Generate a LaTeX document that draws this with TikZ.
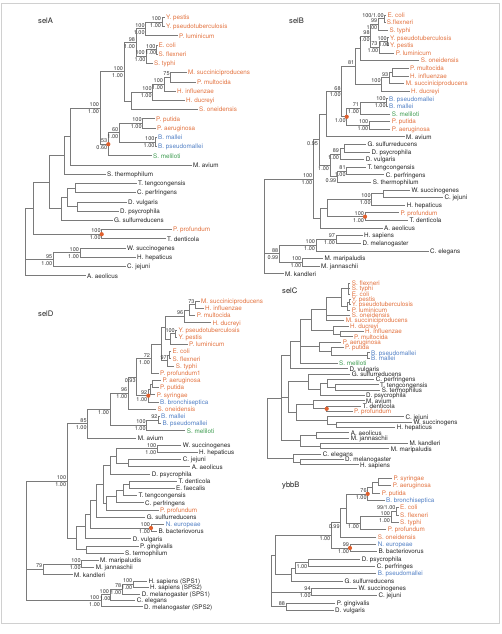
\documentclass[tikz,border=0pt]{standalone}
\usepackage{fontspec}
\setmainfont{TeX Gyre Heros}
\definecolor{og}{HTML}{E2703C}
\definecolor{bl}{HTML}{4F7EC4}
\definecolor{gr}{HTML}{3B9A4E}
\definecolor{bk}{HTML}{222222}
\definecolor{ln}{HTML}{7A7A7A}
\definecolor{dotc}{HTML}{E0602E}
\definecolor{frm}{HTML}{D0D0D0}
\definecolor{svc}{HTML}{333333}
\tikzset{
  lab/.style={anchor=base west,inner sep=0pt,font=\fontsize{6.3}{7}\selectfont},
  sv/.style={inner sep=0pt,text=svc,font=\fontsize{5.5}{6}\selectfont},
  ttl/.style={anchor=base west,inner sep=0pt,text=bk,font=\fontsize{7.6}{9}\selectfont},
  br/.style={draw=ln,line width=0.75pt},
  frame/.style={draw=frm,line width=0.8pt}
}
\newcommand\Lf[5]{\coordinate (#1) at ({#2-1.5},#3);\node[lab,text=#4] (#1t) at (#2,{#3+2.3}) {#5};}
\newcommand\Nd[3]{\coordinate (#1) at (#2,#3);}
\newcommand\Br[2]{\draw[br] (#1) -| (#2);}
\newcommand\Up[3][0]{\node[sv,anchor=south east] (#2u) at ([xshift={(#1-0.9)*1pt},yshift=1.3pt]#2) {#3};}
\newcommand\Dn[3][0]{\node[sv,anchor=north east] (#2d) at ([xshift={(#1-0.9)*1pt},yshift=-1.3pt]#2) {#3};}
\newcommand\Dot[1]{\fill[dotc] (#1) circle[radius=2.1pt];}
\begin{document}
\begin{tikzpicture}[x=1pt,y=-1pt]
\useasboundingbox (0,0) rectangle (501,634);
\draw[frame] (1,3.3) rectangle (499.3,623.3);
% titles
\node[ttl] (tA) at (38,23.6) {selA};
\node[ttl] (tB) at (289,23.3) {selB};
\node[ttl] (tD) at (38,316) {selD};
\node[ttl] (tC) at (282,293.6) {selC};
\node[ttl] (tY) at (282,487.6) {ybbB};
% ================= selA
\Lf{A1}{166}{17.3}{og}{Y. pestis}
\Lf{A2}{166}{26.53}{og}{Y. pseudotuberculosis}
\Lf{A3}{179}{35.76}{og}{P. luminicum}
\Lf{A4}{158.3}{44.99}{og}{E. coli}
\Lf{A5}{158.3}{54.22}{og}{S. flexneri}
\Lf{A6}{154}{63.45}{og}{S. typhi}
\Lf{A7}{188}{72.68}{og}{M. succiniciproducens}
\Lf{A8}{197}{81.91}{og}{P. multocida}
\Lf{A9}{177}{91.14}{og}{H. influenzae}
\Lf{A10}{186}{100.37}{og}{H. ducreyi}
\Lf{A11}{199}{109.6}{og}{S. oneidensis}
\Lf{A12}{156}{118.83}{og}{P. putida}
\Lf{A13}{157}{128.06}{og}{P. aeruginosa}
\Lf{A14}{158}{137.29}{bl}{B. mallei}
\Lf{A15}{158}{146.52}{bl}{B. pseudomallei}
\Lf{A16}{153}{155.75}{gr}{S. meliloti}
\Lf{A17}{193}{164.98}{bk}{M. avium}
\Lf{A18}{107}{174.21}{bk}{S. thermophilum}
\Lf{A19}{138}{183.44}{bk}{T. tengcongensis}
\Lf{A20}{137}{192.67}{bk}{C. perfringens}
\Lf{A21}{128}{201.9}{bk}{D. vulgaris}
\Lf{A22}{120}{211.13}{bk}{D. psycrophila}
\Lf{A23}{114}{220.36}{bk}{G. sulfurreducens}
\Lf{A24}{173}{229.59}{og}{P. profundum}
\Lf{A25}{167}{238.82}{bk}{T. denticola}
\Lf{A26}{127}{248.05}{bk}{W. succinogenes}
\Lf{A27}{137}{257.28}{bk}{H. hepaticus}
\Lf{A28}{127}{266.51}{bk}{C. jejuni}
\Lf{A29}{87}{275.74}{bk}{A. aeolicus}
\Nd{a1}{162}{21.9}\Nd{a2}{145.7}{28.8}\Nd{a3}{156.5}{49.6}\Nd{a4}{146.5}{56.5}
\Nd{a5}{136}{42.7}\Nd{a6}{170.7}{77.3}\Nd{a7}{164}{84.2}\Nd{a8}{152.7}{92.3}
\Nd{a9}{131.7}{101}\Nd{a10}{124}{71.8}\Nd{a11}{142.7}{123.4}\Nd{a12}{155.5}{141.9}
\Nd{a13}{119.3}{132.7}\Nd{a14}{108.3}{144.2}\Nd{a15}{100}{108}\Nd{a16}{70}{136.5}
\Nd{a17}{64.3}{155.3}\Nd{a18}{75}{188.1}\Nd{a19}{77.3}{206.5}\Nd{a20}{67.7}{197.3}
\Nd{a21}{61.7}{208.8}\Nd{a22}{49.3}{182}\Nd{a23}{101.7}{234.2}\Nd{a24}{33.3}{208.1}
\Nd{a25}{80}{252.7}\Nd{a26}{53.3}{259.6}\Nd{aR}{25.7}{240}
\Br{A1}{a1}\Br{A2}{a1}\Br{a1}{a2}\Br{A3}{a2}
\Br{A4}{a3}\Br{A5}{a3}\Br{a3}{a4}\Br{A6}{a4}
\Br{a2}{a5}\Br{a4}{a5}
\Br{A7}{a6}\Br{A8}{a6}\Br{a6}{a7}\Br{A9}{a7}\Br{a7}{a8}\Br{A10}{a8}\Br{a8}{a9}\Br{A11}{a9}
\Br{a5}{a10}\Br{a9}{a10}
\Br{A12}{a11}\Br{A13}{a11}\Br{A14}{a12}\Br{A15}{a12}\Br{a11}{a13}\Br{a12}{a13}\Br{a13}{a14}\Br{A16}{a14}
\Br{a10}{a15}\Br{a14}{a15}\Br{a15}{a16}\Br{A17}{a16}\Br{a16}{a17}\Br{A18}{a17}
\Br{A19}{a18}\Br{A20}{a18}\Br{A21}{a19}\Br{A22}{a19}\Br{a18}{a20}\Br{a19}{a20}\Br{a20}{a21}\Br{A23}{a21}
\Br{a17}{a22}\Br{a21}{a22}
\Br{A24}{a23}\Br{A25}{a23}\Br{a22}{a24}\Br{a23}{a24}
\Br{A26}{a25}\Br{A27}{a25}\Br{a25}{a26}\Br{A28}{a26}
\Br{a24}{aR}\Br{a26}{aR}\Br{A29}{aR}
\Up{a1}{100}\Dn{a1}{1.00}
\Up{a2}{100}\Dn{a2}{1.00}
\Up{a3}{100}\Dn[0.8]{a3}{1.00}
\Up[-0.6]{a4}{100}\Dn{a4}{1.00}
\Up{a5}{98}\Dn{a5}{1.00}
\Up{a6}{75}
\Up{a7}{100}\Dn{a7}{1.00}
\Up{a8}{100}\Dn{a8}{1.00}
\Up{a10}{100}\Dn{a10}{1.00}
\Up{a11}{100}\Dn{a11}{1.00}
\Up{a12}{100}\Dn{a12}{1.00}
\Up{a13}{60}\Dn{a13}{1.00}
\Up{a14}{53}\Dn{a14}{0.60}
\Up{a15}{100}\Dn{a15}{1.00}
\Up{a23}{100}\Dn{a23}{1.00}
\Up{a25}{100}\Dn{a25}{1.00}
\Up{a26}{95}\Dn{a26}{1.00}
\Dot{a14}\Dot{a23}
% ================= selB
\Lf{B1}{387.3}{15.0}{og}{E. coli}
\Lf{B2}{386.7}{22.61}{og}{S.flexneri}
\Lf{B3}{389.3}{30.22}{og}{S. typhi}
\Lf{B4}{390}{37.83}{og}{Y. pseudotuberculosis}
\Lf{B5}{390}{45.44}{og}{Y. pestis}
\Lf{B6}{395.7}{53.05}{og}{P. luminicum}
\Lf{B7}{420.7}{60.66}{og}{S. oneidensis}
\Lf{B8}{410}{68.27}{og}{P. multocida}
\Lf{B9}{410}{75.88}{og}{H. influenzae}
\Lf{B10}{405.7}{83.49}{og}{M. succiniciproducens}
\Lf{B11}{411}{91.1}{og}{H. ducreyi}
\Lf{B12}{389}{98.71}{bl}{B. pseudomallei}
\Lf{B13}{389}{106.32}{bl}{B. mallei}
\Lf{B14}{391.7}{113.93}{gr}{S. meliloti}
\Lf{B15}{391.7}{121.54}{og}{P. putida}
\Lf{B16}{391.7}{129.15}{og}{P. aeruginosa}
\Lf{B17}{406}{136.76}{bk}{M. avium}
\Lf{B18}{367.3}{144.37}{bk}{G. sulfurreducens}
\Lf{B19}{371.3}{151.98}{bk}{D. psycrophila}
\Lf{B20}{365.7}{159.59}{bk}{D. vulgaris}
\Lf{B21}{367.3}{167.2}{bk}{T. tengcongensis}
\Lf{B22}{385.7}{174.81}{bk}{C. perfringens}
\Lf{B23}{372.7}{182.42}{bk}{S. thermophilum}
\Lf{B24}{411.3}{190.03}{bk}{W. succinogenes}
\Lf{B25}{444.3}{197.64}{bk}{C. jejuni}
\Lf{B26}{406.7}{205.25}{bk}{H. hepaticus}
\Lf{B27}{400.3}{212.86}{og}{P. profundum}
\Lf{B28}{409.3}{220.47}{bk}{T. denticola}
\Lf{B29}{384}{228.08}{bk}{A. aeolicus}
\Lf{B30}{364}{235.69}{bk}{H. sapiens}
\Lf{B31}{362.3}{243.3}{bk}{D. melanogaster}
\Lf{B32}{430}{250.91}{bk}{C. elegans}
\Lf{B33}{324.3}{258.52}{bk}{M. maripaludis}
\Lf{B34}{321}{266.13}{bk}{M. jannaschii}
\Lf{B35}{285}{273.74}{bk}{M. kandleri}
\Nd{b1}{384.8}{18.8}\Nd{b2}{378.3}{24.5}\Nd{b3}{387.8}{41.6}\Nd{b4}{379.3}{47.3}
\Nd{b5}{370.7}{35.9}\Nd{b6}{360}{48.3}\Nd{b7}{392.3}{72.1}\Nd{b8}{389.3}{77.8}
\Nd{b9}{381.7}{84.5}\Nd{b10}{355.3}{66.4}\Nd{b11}{386.7}{102.5}\Nd{b12}{360}{108.2}
\Nd{b13}{369.3}{125.3}\Nd{b14}{346.7}{116.8}\Nd{b15}{341.7}{91.6}\Nd{b16}{326.7}{114.2}
\Nd{b17}{344}{148.2}\Nd{b18}{340}{153.9}\Nd{b19}{346.7}{171}\Nd{b20}{337.3}{176.7}
\Nd{b21}{330}{165.3}\Nd{b22}{319}{139.8}\Nd{b23}{383.3}{193.8}\Nd{b24}{371.7}{199.5}
\Nd{b25}{365}{216.7}\Nd{b26}{327.3}{208.1}\Nd{b27}{320}{218.1}\Nd{b28}{313.3}{179}
\Nd{b29}{336}{239.5}\Nd{b30}{316}{245.2}\Nd{b31}{302.3}{262.3}\Nd{b32}{279.3}{253.8}
\Nd{bR}{264}{226}
\Br{B1}{b1}\Br{B2}{b1}\Br{b1}{b2}\Br{B3}{b2}
\Br{B4}{b3}\Br{B5}{b3}\Br{b3}{b4}\Br{B6}{b4}
\Br{b2}{b5}\Br{b4}{b5}\Br{b5}{b6}\Br{B7}{b6}
\Br{B8}{b7}\Br{B9}{b7}\Br{b7}{b8}\Br{B10}{b8}\Br{b8}{b9}\Br{B11}{b9}
\Br{b6}{b10}\Br{b9}{b10}
\Br{B12}{b11}\Br{B13}{b11}\Br{b11}{b12}\Br{B14}{b12}
\Br{B15}{b13}\Br{B16}{b13}\Br{b12}{b14}\Br{b13}{b14}
\Br{b10}{b15}\Br{b14}{b15}\Br{b15}{b16}\Br{B17}{b16}
\Br{B18}{b17}\Br{B19}{b17}\Br{b17}{b18}\Br{B20}{b18}
\Br{B21}{b19}\Br{B22}{b19}\Br{b19}{b20}\Br{B23}{b20}
\Br{b18}{b21}\Br{b20}{b21}\Br{b16}{b22}\Br{b21}{b22}
\Br{B24}{b23}\Br{B25}{b23}\Br{b23}{b24}\Br{B26}{b24}
\Br{B27}{b25}\Br{B28}{b25}\Br{b24}{b26}\Br{b25}{b26}\Br{b26}{b27}\Br{B29}{b27}
\Br{b22}{b28}\Br{b27}{b28}
\Br{B30}{b29}\Br{B31}{b29}\Br{b29}{b30}\Br{B32}{b30}
\Br{B33}{b31}\Br{B34}{b31}\Br{b30}{b32}\Br{b31}{b32}
\Br{b28}{bR}\Br{b32}{bR}\Br{B35}{bR}
\Up{b1}{100/1.00}
\Up{b2}{99}\Dn{b2}{1.00}
\Up{b3}{100}\Dn[2.6]{b3}{1.00}
\Up[-0.8]{b4}{73}\Dn{b4}{1.00}
\Up{b5}{98}\Dn{b5}{1.00}
\Up{b8}{93}
\Up{b9}{100}
\Up{b10}{81}
\Up{b11}{100}\Dn{b11}{1.00}
\Up{b12}{71}\Dn{b12}{1.00}
\Up{b13}{100}\Dn{b13}{1.00}
\Dn{b14}{1.00}
\Up{b15}{68}\Dn{b15}{1.00}
\Up{b18}{89}\Dn{b18}{1.00}
\Up{b19}{81}\Dn{b19}{1.00}
\Dn{b20}{0.99}
\Dn{b21}{1.00}
\Dn{b22}{0.95}
\Up{b24}{100}\Dn{b24}{1.00}
\Up{b25}{100}\Dn{b25}{1.00}
\Up{b28}{100}\Dn{b28}{1.00}
\Up{b29}{97}\Dn{b29}{1.00}
\Up{b30}{100}\Dn{b30}{1.00}
\Up{b31}{100}\Dn{b31}{1.00}
\Up{b32}{88}\Dn{b32}{0.99}
\Dot{b14}\Dot{b25}
% ================= selD
\Lf{D1}{201}{301.2}{og}{M. succiniciproducens}
\Lf{D2}{205}{308.4}{og}{H. influenzae}
\Lf{D3}{196.7}{315.6}{og}{P. multocida}
\Lf{D4}{212.3}{322.8}{og}{H. ducreyi}
\Lf{D5}{178.3}{330.0}{og}{Y. pseudotuberculosis}
\Lf{D6}{178.3}{337.2}{og}{Y. pestis}
\Lf{D7}{189}{344.4}{og}{P. luminicum}
\Lf{D8}{172.3}{351.6}{og}{E. coli}
\Lf{D9}{172.3}{358.8}{og}{S. flexneri}
\Lf{D10}{175.7}{366.0}{og}{S. typhi}
\Lf{D11}{160}{373.2}{og}{P. profundum1}
\Lf{D12}{162.3}{380.4}{og}{P. aeruginosa}
\Lf{D13}{160}{387.6}{og}{P. putida}
\Lf{D14}{156.7}{394.8}{og}{P. syringae}
\Lf{D15}{160}{402.0}{bl}{B. bronchiseptica}
\Lf{D16}{157.3}{409.2}{og}{S. oneidensis}
\Lf{D17}{161}{416.4}{bl}{B. mallei}
\Lf{D18}{162.3}{423.6}{bl}{B. pseudomallei}
\Lf{D19}{186.7}{430.8}{gr}{S. meliloti}
\Lf{D20}{137.7}{438.0}{bk}{M. avium}
\Lf{D21}{182.7}{445.2}{bk}{W. succinogenes}
\Lf{D22}{199}{452.4}{bk}{H. hepaticus}
\Lf{D23}{182.7}{459.6}{bk}{C. jejuni}
\Lf{D24}{191.7}{466.8}{bk}{A. aeolicus}
\Lf{D25}{151.7}{474.0}{bk}{D. psycrophila}
\Lf{D26}{178.3}{481.2}{bk}{T. denticola}
\Lf{D27}{176}{488.4}{bk}{E. faecalis}
\Lf{D28}{138.3}{495.6}{bk}{T. tengcongensis}
\Lf{D29}{145}{502.8}{bk}{C. perfringens}
\Lf{D30}{160}{510.0}{og}{P. profundum}
\Lf{D31}{146.7}{517.2}{bk}{G. sulfurreducens}
\Lf{D32}{165.7}{524.4}{bl}{N. europeae}
\Lf{D33}{158.3}{531.6}{bk}{B. bacteriovorus}
\Lf{D34}{132.7}{538.8}{bk}{D. vulgaris}
\Lf{D35}{140}{546.0}{bk}{P. gingivalis}
\Lf{D36}{125}{553.2}{bk}{S. termophilum}
\Lf{D37}{100}{560.4}{bk}{M. maripaludis}
\Lf{D38}{95.7}{567.6}{bk}{M. jannaschii}
\Lf{D39}{74}{574.8}{bk}{M. kandleri}
\Lf{D40}{148.3}{581.2}{bk}{H. sapiens (SPS1)}
\Lf{D41}{150}{587.6}{bk}{H. sapiens (SPS2)}
\Lf{D42}{141.7}{594.0}{bk}{D. melanogaster (SPS1)}
\Lf{D43}{136.7}{600.4}{bk}{C. elegans}
\Lf{D44}{144}{606.8}{bk}{D. melanogaster (SPS2)}
\Nd{d1}{195.5}{304.8}\Nd{d2}{189.5}{310.2}\Nd{d3}{184.3}{316.5}\Nd{d4}{175.8}{333.6}
\Nd{d5}{170.7}{339}\Nd{d6}{165.7}{327.8}\Nd{d7}{169.8}{355.2}\Nd{d8}{167.8}{360.6}
\Nd{d9}{161.7}{344.2}\Nd{d10}{151}{358.7}\Nd{d11}{152}{384}\Nd{d12}{150}{389.4}
\Nd{d13}{148.3}{395.7}\Nd{d14}{136.7}{377.2}\Nd{d15}{128.3}{393.2}\Nd{d16}{158.5}{420}
\Nd{d17}{146.7}{425.4}\Nd{d18}{110}{409.3}\Nd{d19}{87.7}{423.7}\Nd{d20}{157.3}{448.8}
\Nd{d21}{128.3}{463.2}\Nd{d22}{116.7}{456}\Nd{d23}{110}{465}\Nd{d24}{129.3}{484.8}
\Nd{d25}{123.3}{490.2}\Nd{d26}{116.7}{496.5}\Nd{d27}{106.7}{503.3}\Nd{d28}{103.3}{484.2}
\Nd{d29}{96.7}{500.7}\Nd{d30}{151}{528}\Nd{d31}{90}{514.4}\Nd{d32}{85}{526.6}
\Nd{d33}{86.5}{549.6}\Nd{d34}{76.7}{538.1}\Nd{d35}{67.2}{481}\Nd{d36}{81.7}{564}
\Nd{d37}{43.3}{569.4}\Nd{d38}{133.3}{584.4}\Nd{d39}{122.3}{589.2}\Nd{d40}{110}{594.8}
\Nd{d41}{101}{600.8}\Nd{dR}{26.7}{540}
\Br{D1}{d1}\Br{D2}{d1}\Br{d1}{d2}\Br{D3}{d2}\Br{d2}{d3}\Br{D4}{d3}
\Br{D5}{d4}\Br{D6}{d4}\Br{d4}{d5}\Br{D7}{d5}\Br{d3}{d6}\Br{d5}{d6}
\Br{D8}{d7}\Br{D9}{d7}\Br{d7}{d8}\Br{D10}{d8}\Br{d6}{d9}\Br{d8}{d9}
\Br{d9}{d10}\Br{D11}{d10}
\Br{D12}{d11}\Br{D13}{d11}\Br{d11}{d12}\Br{D14}{d12}\Br{d12}{d13}\Br{D15}{d13}
\Br{d10}{d14}\Br{d13}{d14}\Br{d14}{d15}\Br{D16}{d15}
\Br{D17}{d16}\Br{D18}{d16}\Br{d16}{d17}\Br{D19}{d17}
\Br{d15}{d18}\Br{d17}{d18}\Br{d18}{d19}\Br{D20}{d19}
\Br{D21}{d20}\Br{D22}{d20}\Br{D23}{d21}\Br{D24}{d21}\Br{d20}{d22}\Br{d21}{d22}\Br{d22}{d23}\Br{D25}{d23}
\Br{D26}{d24}\Br{D27}{d24}\Br{d24}{d25}\Br{D28}{d25}\Br{d25}{d26}\Br{D29}{d26}\Br{d26}{d27}\Br{D30}{d27}
\Br{d23}{d28}\Br{d27}{d28}\Br{d28}{d29}\Br{D31}{d29}
\Br{D32}{d30}\Br{D33}{d30}\Br{d29}{d31}\Br{d30}{d31}\Br{d31}{d32}\Br{D34}{d32}
\Br{D35}{d33}\Br{D36}{d33}\Br{d32}{d34}\Br{d33}{d34}
\Br{d19}{d35}\Br{d34}{d35}
\Br{D37}{d36}\Br{D38}{d36}\Br{d36}{d37}\Br{D39}{d37}
\Br{D40}{d38}\Br{D41}{d38}\Br{d38}{d39}\Br{D42}{d39}\Br{d39}{d40}\Br{D43}{d40}\Br{d40}{d41}\Br{D44}{d41}
\Br{d35}{dR}\Br{d37}{dR}\Br{d41}{dR}
\Up{d1}{73}
\Up{d3}{96}
\Up{d4}{100}
\Up{d8}{97}
\Up{d10}{72}\Dn{d10}{1.00}
\Up{d13}{92}\Dn{d13}{1.00}
\Dn{d14}{0.93}
\Up{d15}{96}\Dn{d15}{1.00}
\Up{d16}{92}
\Up{d17}{100}\Dn{d17}{1.00}
\Dn{d18}{1.00}
\Up{d19}{85}\Dn{d19}{1.00}
\Up{d20}{100}\Dn{d20}{1.00}
\Up{d30}{100}\Dn{d30}{1.00}
\Up{d35}{100}\Dn{d35}{1.00}
\Up{d36}{100}\Dn{d36}{1.00}
\Up{d37}{79}
\Up{d38}{100}\Dn{d38}{1.00}
\Up{d39}{78}\Dn{d39}{1.00}
\Up{d40}{100}\Dn[1.6]{d40}{1.00}
\Up[-0.8]{d41}{100}\Dn{d41}{1.00}
\Dot{d13}\Dot{d30}
% ================= selC
\Lf{C0}{351.7}{283.3}{og}{S. flexneri}
\Lf{C1}{351.7}{288.64}{og}{S. typhi}
\Lf{C2}{351.7}{293.98}{og}{E. coli}
\Lf{C3}{351.7}{299.32}{og}{Y. pestis}
\Lf{C4}{351.7}{304.66}{og}{Y. pseudotuberculosis}
\Lf{C5}{351.7}{310.0}{og}{P. luminicum}
\Lf{C6}{351.7}{315.34}{og}{S. oneidensis}
\Lf{C7}{345.7}{320.68}{og}{M. succiniciproducens}
\Lf{C8}{350}{326.02}{og}{H. ducreyi}
\Lf{C9}{365}{331.36}{og}{H. influenzae}
\Lf{C10}{354}{336.7}{og}{P. multocida}
\Lf{C11}{342.7}{342.04}{og}{P. aeruginosa}
\Lf{C12}{345}{347.38}{og}{P. putida}
\Lf{C13}{371}{352.72}{bl}{B. pseudomallei}
\Lf{C14}{371}{358.06}{bl}{B. mallei}
\Lf{C15}{339}{363.4}{gr}{S. meliloti}
\Lf{C16}{349.3}{368.74}{bk}{D. vulgaris}
\Lf{C17}{351.7}{374.08}{bk}{G. sulfurreducens}
\Lf{C18}{375.7}{379.42}{bk}{C. perfringens}
\Lf{C19}{380}{384.76}{bk}{T. tengcongensis}
\Lf{C20}{381.7}{390.1}{bk}{S. termophilus}
\Lf{C21}{366}{395.44}{bk}{D. psycrophila}
\Lf{C22}{366}{400.78}{bk}{M. avium}
\Lf{C23}{362.7}{406.12}{bk}{T. denticola}
\Lf{C24}{354}{411.46}{og}{P. profundum}
\Lf{C25}{405.3}{416.8}{bk}{C. jejuni}
\Lf{C26}{413.3}{422.14}{bk}{W. succinogens}
\Lf{C27}{396.7}{427.48}{bk}{H. hepaticus}
\Lf{C28}{350.7}{432.82}{bk}{A. aeolicus}
\Lf{C29}{350.7}{438.16}{bk}{M. jannaschii}
\Lf{C30}{409.3}{443.5}{bk}{M. kandleri}
\Lf{C31}{390.7}{448.84}{bk}{M. maripaludis}
\Lf{C32}{322.7}{454.18}{bk}{C. elegans}
\Lf{C33}{345}{459.52}{bk}{D. melanogaster}
\Lf{C34}{360}{464.86}{bk}{H. sapiens}
\Nd{c1}{348.5}{288.64}\Nd{c2a}{349.5}{302}\Nd{c2}{347.5}{306}\Nd{c3}{341.7}{297.3}
\Nd{c4}{326}{309}\Nd{c5a}{340.7}{334}\Nd{c5}{333}{330}\Nd{c6}{311}{319.5}
\Nd{p1}{367.5}{355.4}\Nd{p2}{331.7}{351.4}\Nd{p3}{319.3}{346.7}\Nd{c7}{300}{341.5}
\Nd{u1}{290}{355}\Nd{f1}{335}{387.4}\Nd{f2}{327.7}{383.4}\Nd{f3}{320}{389.4}
\Nd{g1}{308.3}{381.7}\Nd{t1}{326.7}{408.8}\Nd{t2}{313.3}{404.8}\Nd{w1}{336}{424.8}
\Nd{w2}{327.3}{420.8}\Nd{t3}{296.7}{412.8}\Nd{g3}{288.3}{397.3}\Nd{q1}{316}{435.5}
\Nd{q2}{320}{446.2}\Nd{q3}{300}{440.8}\Nd{v2}{281.7}{398}\Nd{e1}{300}{462.2}
\Nd{e2}{293.3}{458.2}\Nd{cR}{267}{428}
\Br{C0}{c1}\Br{C1}{c1}\Br{C2}{c1}
\Br{C3}{c2a}\Br{C4}{c2a}\Br{c2a}{c2}\Br{C5}{c2}
\Br{c1}{c3}\Br{c2}{c3}
\Br{c3}{c4}\Br{C6}{c4}\Br{C7}{c4}
\Br{C9}{c5a}\Br{C10}{c5a}\Br{C8}{c5}\Br{c5a}{c5}
\Br{c4}{c6}\Br{c5}{c6}
\Br{C13}{p1}\Br{C14}{p1}\Br{C12}{p2}\Br{p1}{p2}\Br{C11}{p3}\Br{p2}{p3}
\Br{c6}{c7}\Br{p3}{c7}\Br{C15}{c7}
\Br{c7}{u1}\Br{C16}{u1}
\Br{C19}{f1}\Br{C20}{f1}\Br{C18}{f2}\Br{f1}{f2}\Br{f2}{f3}\Br{C21}{f3}\Br{C17}{g1}\Br{f3}{g1}
\Br{C23}{t1}\Br{C24}{t1}\Br{C22}{t2}\Br{t1}{t2}
\Br{C26}{w1}\Br{C27}{w1}\Br{C25}{w2}\Br{w1}{w2}
\Br{t2}{t3}\Br{w2}{t3}\Br{g1}{g3}\Br{t3}{g3}
\Br{C28}{q1}\Br{C29}{q1}\Br{C30}{q2}\Br{C31}{q2}\Br{q1}{q3}\Br{q2}{q3}
\Br{u1}{v2}\Br{g3}{v2}\Br{q3}{v2}
\Br{C33}{e1}\Br{C34}{e1}\Br{C32}{e2}\Br{e1}{e2}
\Br{v2}{cR}\Br{e2}{cR}
\Dot{t1}
% ================= ybbB
\Lf{Y1}{393.3}{478.3}{og}{P. syringae}
\Lf{Y2}{392.7}{485.63}{og}{P. aeruginosa}
\Lf{Y3}{381.7}{492.96}{og}{P. putida}
\Lf{Y4}{386}{500.29}{bl}{B. bronchiseptica}
\Lf{Y5}{400}{507.62}{og}{E. coli}
\Lf{Y6}{400}{514.95}{og}{S. flexneri}
\Lf{Y7}{400}{522.28}{og}{S. typhi}
\Lf{Y8}{387.7}{529.61}{og}{P. profundum}
\Lf{Y9}{377.7}{536.94}{og}{S. oneidensis}
\Lf{Y10}{377.7}{544.27}{bl}{N. europeae}
\Lf{Y11}{378.3}{551.6}{bk}{B. bacteriovorus}
\Lf{Y12}{361.7}{558.93}{bk}{D. psycrophila}
\Lf{Y13}{376.7}{566.26}{bk}{C. perfringes}
\Lf{Y14}{377.7}{573.59}{bl}{B. pseudomallei}
\Lf{Y15}{344.3}{580.92}{bk}{G. sulfurreducens}
\Lf{Y16}{358.3}{588.25}{bk}{W. succinogenes}
\Lf{Y17}{378.3}{595.58}{bk}{C. jejuni}
\Lf{Y18}{336.7}{602.91}{bk}{P. gingivalis}
\Lf{Y19}{335}{610.24}{bk}{D. vulgaris}
\Nd{y1}{378.3}{482}\Nd{y2}{372.7}{487.5}\Nd{y3}{367.7}{493.9}\Nd{y4}{396.5}{511.3}
\Nd{y5}{391}{516.8}\Nd{y6}{360}{523.2}\Nd{y7}{346.7}{508.6}\Nd{y8}{340.7}{522.8}
\Nd{y9}{350}{548}\Nd{y10}{331.3}{535.4}\Nd{y11}{308.3}{562.6}\Nd{y12}{295}{568.1}
\Nd{y13}{291.7}{574.5}\Nd{y14}{275}{555}\Nd{y15}{311.7}{591.9}\Nd{y16}{286}{606.6}
\Nd{yR}{271.7}{580}
\Br{Y1}{y1}\Br{Y2}{y1}\Br{y1}{y2}\Br{Y3}{y2}\Br{y2}{y3}\Br{Y4}{y3}
\Br{Y5}{y4}\Br{Y6}{y4}\Br{y4}{y5}\Br{Y7}{y5}\Br{y5}{y6}\Br{Y8}{y6}
\Br{y3}{y7}\Br{y6}{y7}\Br{y7}{y8}\Br{Y9}{y8}
\Br{Y10}{y9}\Br{Y11}{y9}\Br{y8}{y10}\Br{y9}{y10}
\Br{Y12}{y11}\Br{Y13}{y11}\Br{y11}{y12}\Br{Y14}{y12}\Br{y12}{y13}\Br{Y15}{y13}
\Br{y10}{y14}\Br{y13}{y14}
\Br{Y16}{y15}\Br{Y17}{y15}\Br{Y18}{y16}\Br{Y19}{y16}
\Br{y14}{yR}\Br{y15}{yR}\Br{y16}{yR}
\Up{y3}{76}\Dn{y3}{1.00}
\Up{y4}{99/1.00}
\Up{y5}{100}\Dn{y5}{1.00}
\Dn{y6}{1.00}
\Dn{y8}{0.99}
\Up{y9}{99}\Dn{y9}{1.00}
\Dn{y10}{1.00}
\Dn{y11}{1.00}
\Up{y15}{94}\Dn{y15}{1.00}
\Up{y16}{88}
\Dot{y3}\Dot{y9}
\end{tikzpicture}
\end{document}
